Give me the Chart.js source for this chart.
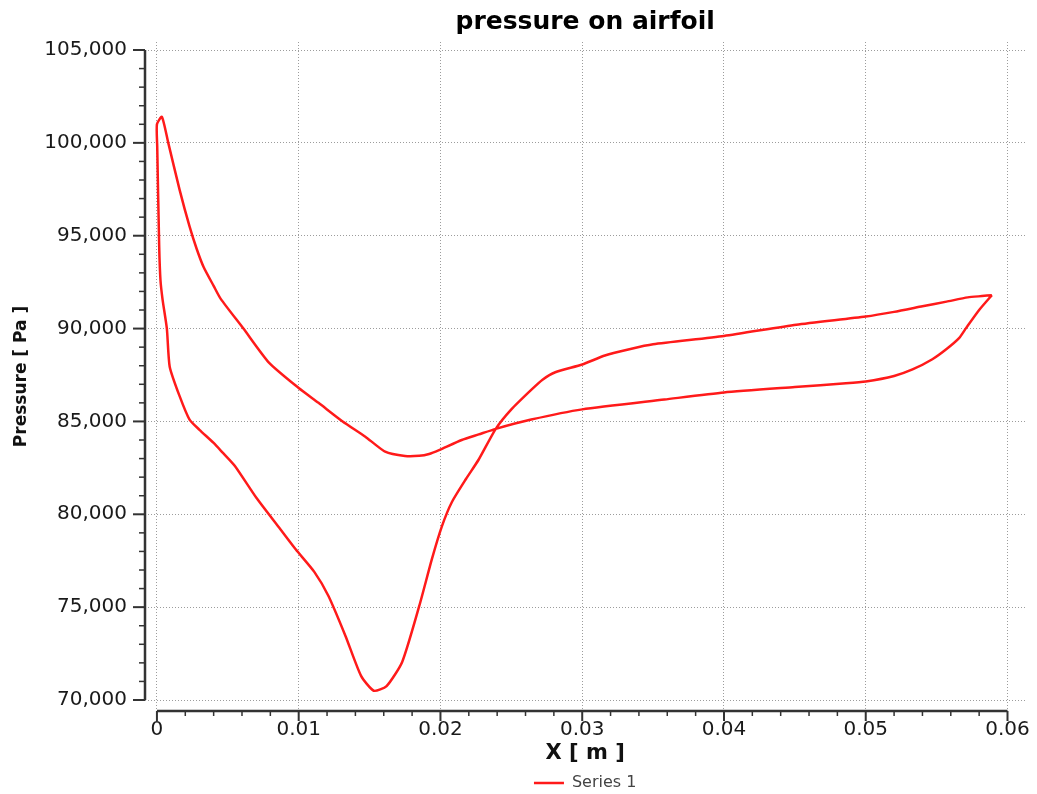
<!DOCTYPE html>
<html>
<head>
<meta charset="utf-8">
<style>
  html, body { margin: 0; padding: 0; background: #ffffff; }
  #wrap { width: 1037px; height: 794px; }
</style>
<script src="https://cdn.jsdelivr.net/npm/chart.js@4.4.1/dist/chart.umd.min.js"></script>
</head>
<body>
<div id="wrap"><canvas id="c" width="1037" height="794"></canvas></div>
<script>
// ---- data ----
const seriesName = 'Series 1';
const xValues = [
  0.0589, 0.0582, 0.0572, 0.0557, 0.0540, 0.0520, 0.0500, 0.0451, 0.0400, 0.0350,
  0.0334, 0.0316, 0.0300, 0.0281, 0.0272, 0.0264, 0.0250, 0.0239, 0.0227, 0.0218,
  0.0208, 0.0201, 0.0194, 0.0185, 0.0173, 0.0162, 0.0153, 0.0144, 0.0133, 0.0121,
  0.0111, 0.0098, 0.0086, 0.0070, 0.0055, 0.0046, 0.0040, 0.0030, 0.0023, 0.0016,
  0.0009, 0.0007, 0.0004, 0.00025, 0.00016, 0.00002, 0.0000, 0.00035, 0.0008, 0.0016,
  0.0023, 0.0028, 0.0033, 0.0040, 0.0045, 0.0061, 0.0079, 0.0100, 0.0114, 0.0131,
  0.0147, 0.0161, 0.0175, 0.0185, 0.0192, 0.0199, 0.0215, 0.0227, 0.0239, 0.0264,
  0.0300, 0.0358, 0.0400, 0.0450, 0.0486, 0.0500, 0.0520, 0.0533, 0.0547, 0.0557,
  0.0566, 0.0571, 0.0580, 0.0589
];
const pressureValues = [
  91800, 91750, 91680, 91450, 91200, 90900, 90650, 90210, 89600, 89150,
  88900, 88550, 88065, 87650, 87250, 86700, 85650, 84600, 82950, 81900,
  80650, 79350, 77600, 75050, 72050, 70750, 70500, 71300, 73450, 75600,
  76900, 78100, 79300, 80900, 82600, 83350, 83840, 84550, 85100, 86360,
  87950, 90000, 91550, 92600, 94400, 99800, 101000, 101400, 100000, 97470,
  95500, 94300, 93300, 92300, 91600, 90000, 88170, 86800, 86000, 85000,
  84180, 83370, 83140, 83150, 83250, 83460, 84000, 84300, 84600, 85100,
  85650, 86180, 86560, 86850, 87050, 87150, 87450, 87800, 88350, 88900,
  89500, 90050, 91000, 91800
];
const xMajorTicks = [0, 0.01, 0.02, 0.03, 0.04, 0.05, 0.06];
const xTickLabels = ['0', '0.01', '0.02', '0.03', '0.04', '0.05', '0.06'];
const yMajorTicks = [70000, 75000, 80000, 85000, 90000, 95000, 100000, 105000];
const yTickLabels = ['70,000', '75,000', '80,000', '85,000', '90,000', '95,000', '100,000', '105,000'];
const xMinorStep = 0.002;
const yMinorStep = 1000;

// ---- helpers ----
function buildTicks(majors, step) {
  const out = [];
  const lo = majors[0], hi = majors[majors.length - 1];
  const n = Math.round((hi - lo) / step);
  for (let i = 0; i <= n; i++) out.push(+(lo + i * step).toFixed(6));
  return out;
}
function majorIndex(majors, v) {
  for (let i = 0; i < majors.length; i++) {
    if (Math.abs(majors[i] - v) < 1e-9 * Math.max(1, Math.abs(v))) return i;
  }
  return -1;
}
const points = xValues.map((x, i) => ({ x: x, y: pressureValues[i] }));

Chart.defaults.font.family = "'DejaVu Sans', Verdana, sans-serif";

const GRID_COLOR = '#9c9c9c';
const AXIS_COLOR = '#333333';

const axesPlugin = {
  id: 'axesPlugin',
  afterDraw(chart) {
    const ctx = chart.ctx;
    const xs = chart.scales.x, ys = chart.scales.y;
    const ax = chart.chartArea.left;
    const ay = chart.chartArea.bottom;
    ctx.save();
    ctx.strokeStyle = AXIS_COLOR;
    ctx.lineWidth = 2.5;
    ctx.beginPath();
    ctx.moveTo(ax, ys.getPixelForValue(yMajorTicks[yMajorTicks.length - 1]));
    ctx.lineTo(ax, ys.getPixelForValue(yMajorTicks[0]));
    ctx.stroke();
    ys.ticks.forEach(t => {
      const py = ys.getPixelForValue(t.value);
      const major = majorIndex(yMajorTicks, t.value) >= 0;
      ctx.lineWidth = major ? 2 : 1.5;
      ctx.beginPath();
      ctx.moveTo(ax - (major ? 12 : 6), py);
      ctx.lineTo(ax, py);
      ctx.stroke();
    });
    ctx.lineWidth = 2.5;
    ctx.beginPath();
    ctx.moveTo(xs.getPixelForValue(xMajorTicks[0]), ay);
    ctx.lineTo(xs.getPixelForValue(xMajorTicks[xMajorTicks.length - 1]), ay);
    ctx.stroke();
    xs.ticks.forEach(t => {
      const px = xs.getPixelForValue(t.value);
      const major = majorIndex(xMajorTicks, t.value) >= 0;
      ctx.lineWidth = major ? 2 : 1.5;
      ctx.beginPath();
      ctx.moveTo(px, ay);
      ctx.lineTo(px, ay + (major ? 10 : 5));
      ctx.stroke();
    });
    ctx.restore();
  }
};

new Chart(document.getElementById('c'), {
  type: 'scatter',
  data: {
    datasets: [{
      label: seriesName,
      data: points,
      showLine: true,
      borderColor: '#ff1a1a',
      backgroundColor: '#ff1a1a',
      borderWidth: 2.5,
      pointRadius: 0,
      pointHoverRadius: 0,
      tension: 0.2,
      fill: false
    }]
  },
  options: {
    responsive: false,
    animation: false,
    devicePixelRatio: 1,
    layout: { padding: { top: 0, left: 0, right: 7, bottom: 0 } },
    plugins: {
      title: {
        display: true,
        text: 'pressure on airfoil',
        color: '#000000',
        fullSize: false,
        font: { size: 25, weight: 'bold' },
        padding: { top: 7, bottom: 5 }
      },
      legend: {
        display: true,
        position: 'bottom',
        fullSize: false,
        maxHeight: 25,
        labels: {
          usePointStyle: true,
          pointStyle: 'line',
          pointStyleWidth: 30,
          color: '#444444',
          font: { size: 16 },
          padding: 6
        }
      },
      tooltip: { enabled: false }
    },
    scales: {
      x: {
        type: 'linear',
        min: -0.000842,
        max: 0.061263,
        afterBuildTicks: (scale) => {
          scale.ticks = buildTicks(xMajorTicks, xMinorStep).map(v => ({ value: v }));
        },
        afterFit: (scale) => { scale.height = 58; },
        border: { display: false, dash: [1, 2] },
        grid: {
          drawTicks: false,
          lineWidth: 1,
          color: (c) => (c.tick && majorIndex(xMajorTicks, c.tick.value) >= 0) ? GRID_COLOR : 'rgba(0,0,0,0)'
        },
        ticks: {
          autoSkip: false,
          maxRotation: 0,
          padding: 7,
          color: '#1a1a1a',
          font: { size: 20 },
          callback: (v) => {
            const i = majorIndex(xMajorTicks, v);
            return i >= 0 ? xTickLabels[i] : '';
          }
        },
        title: {
          display: true,
          text: 'X [ m ]',
          color: '#111111',
          font: { size: 21, weight: 'bold' },
          padding: { top: 0, bottom: 3 }
        }
      },
      y: {
        type: 'linear',
        min: 69408,
        max: 105431,
        afterBuildTicks: (scale) => {
          scale.ticks = buildTicks(yMajorTicks, yMinorStep).map(v => ({ value: v }));
        },
        afterFit: (scale) => { scale.width = 145; },
        border: { display: false, dash: [1, 2] },
        grid: {
          drawTicks: false,
          lineWidth: 1,
          color: (c) => (c.tick && majorIndex(yMajorTicks, c.tick.value) >= 0) ? GRID_COLOR : 'rgba(0,0,0,0)'
        },
        ticks: {
          autoSkip: false,
          padding: 18,
          color: '#1a1a1a',
          font: { size: 20 },
          callback: (v) => {
            const i = majorIndex(yMajorTicks, v);
            return i >= 0 ? yTickLabels[i] : '';
          }
        },
        title: {
          display: true,
          text: 'Pressure [ Pa ]',
          color: '#111111',
          font: { size: 17, weight: 'bold' },
          padding: { top: 11, bottom: 0 }
        }
      }
    }
  },
  plugins: [axesPlugin]
});
</script>
</body>
</html>
